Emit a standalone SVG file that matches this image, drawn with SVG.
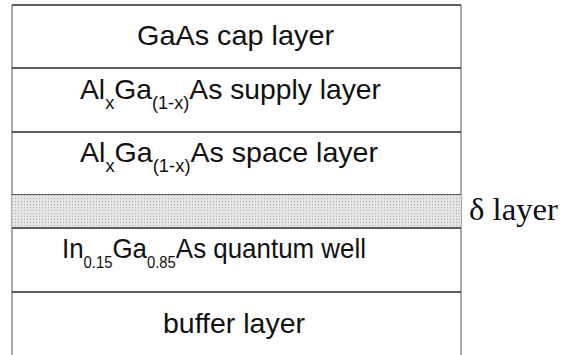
<svg xmlns="http://www.w3.org/2000/svg" width="562" height="355" viewBox="0 0 562 355">
<defs>
<pattern id="dots" width="3" height="3" patternUnits="userSpaceOnUse">
<rect width="3" height="3" fill="#e4e4e4"/>
<rect width="1" height="1" fill="#b0b0b0"/>
</pattern>
<style>
.lbl{font-family:"Liberation Sans",Arial,sans-serif;font-size:28px;fill:#111}
.sub{font-size:18px}
.sub2{font-size:16px}
.hl{stroke:#2a2a2a;stroke-width:1.5;fill:none}
.side{stroke:#555;stroke-width:1;fill:none}
.dl{font-family:"Liberation Serif","Times New Roman",serif;font-size:31px;fill:#111}
</style>
</defs>
<rect width="562" height="355" fill="#fff"/>
<g id="frame">
<line class="hl" x1="12" y1="5" x2="461" y2="5"/>
<line class="side" x1="12" y1="5" x2="12" y2="355"/>
<line class="side" x1="461" y1="5" x2="461" y2="355" stroke="#999"/>
</g>
<g id="cap">
<text class="lbl" x="137" y="45" textLength="197" lengthAdjust="spacingAndGlyphs">GaAs cap layer</text>
<line class="hl" x1="12" y1="68" x2="461" y2="68"/>
</g>
<g id="supply">
<text class="lbl" x="80" y="99" textLength="301" lengthAdjust="spacingAndGlyphs">Al<tspan class="sub" dy="10">x</tspan><tspan dy="-10">Ga</tspan><tspan class="sub" dy="10">(1-x)</tspan><tspan dy="-10">As supply layer</tspan></text>
<line class="hl" x1="12" y1="132" x2="461" y2="132"/>
</g>
<g id="space">
<text class="lbl" x="80" y="162" textLength="298" lengthAdjust="spacingAndGlyphs">Al<tspan class="sub" dy="10">x</tspan><tspan dy="-10">Ga</tspan><tspan class="sub" dy="10">(1-x)</tspan><tspan dy="-10">As space layer</tspan></text>
<line class="hl" x1="12" y1="195" x2="461" y2="195"/>
</g>
<g id="delta">
<rect x="12" y="195" width="449" height="33" fill="url(#dots)"/>
<line class="hl" x1="12" y1="228" x2="461" y2="228"/>
<text class="dl" x="469" y="220" textLength="89" lengthAdjust="spacingAndGlyphs">δ layer</text>
</g>
<g id="qw">
<text class="lbl" x="62" y="258" textLength="304" lengthAdjust="spacingAndGlyphs">In<tspan class="sub2" dy="10">0.15</tspan><tspan dy="-10">Ga</tspan><tspan class="sub2" dy="10">0.85</tspan><tspan dy="-10">As quantum well</tspan></text>
<line class="hl" x1="12" y1="292" x2="461" y2="292"/>
</g>
<g id="buffer">
<text class="lbl" x="163" y="333" textLength="142" lengthAdjust="spacingAndGlyphs">buffer layer</text>
</g>
<g id="connectors"/>
</svg>
